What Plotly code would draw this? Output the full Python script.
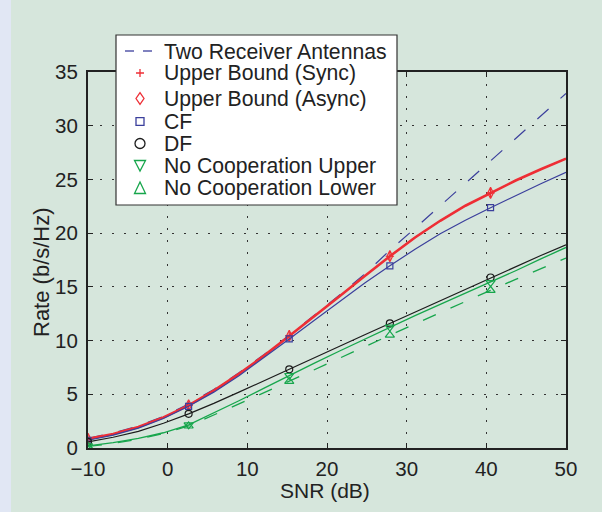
import plotly.graph_objects as go

# SNR grid (dB) and rates (b/s/Hz) for each scheme
snr = [-10, -6.84, -3.68, -0.53, 2.63, 5.79, 8.95, 12.11, 15.26, 18.42,
       21.58, 24.74, 27.89, 31.05, 34.21, 37.37, 40.53, 43.68, 46.84, 50]

two_rx = [0.9, 1.4, 2.05, 2.95, 4.1, 5.45, 7.0, 8.7, 10.5, 12.35,
          14.25, 16.2, 18.4, 20.45, 22.55, 24.6, 26.7, 28.8, 30.9, 33.0]
ub_sync = [0.85, 1.3, 1.95, 2.85, 3.97, 5.35, 6.9, 8.6, 10.43, 12.25,
           14.12, 16.0, 17.85, 19.6, 21.15, 22.55, 23.74, 24.9, 25.95, 26.94]
ub_async = [0.85, 1.3, 1.95, 2.85, 3.97, 5.35, 6.9, 8.6, 10.43, 12.25,
            14.12, 16.0, 17.85, 19.6, 21.15, 22.55, 23.74, 24.9, 25.95, 26.94]
cf = [0.72, 1.2, 1.85, 2.75, 3.88, 5.2, 6.72, 8.4, 10.15, 11.9,
      13.65, 15.35, 16.96, 18.5, 19.95, 21.2, 22.37, 23.5, 24.6, 25.66]
df = [0.57, 1.0, 1.55, 2.3, 3.18, 4.15, 5.2, 6.25, 7.32, 8.4,
      9.47, 10.54, 11.6, 12.67, 13.74, 14.8, 15.87, 16.9, 17.92, 18.92]
nc_upper = [0.2, 0.5, 0.9, 1.42, 2.16, 3.25, 4.4, 5.57, 6.75, 7.9,
            9.03, 10.15, 11.25, 12.32, 13.37, 14.4, 15.4, 16.5, 17.6, 18.67]
nc_lower = [0.15, 0.42, 0.82, 1.35, 2.05, 3.05, 4.1, 5.15, 6.2, 7.28,
            8.35, 9.43, 10.5, 11.56, 12.6, 13.65, 14.68, 15.7, 16.7, 17.68]

x_ticks = [-10, 0, 10, 20, 30, 40, 50]
y_ticks = [0, 5, 10, 15, 20, 25, 30, 35]

labels = ["Two Receiver Antennas", "Upper Bound (Sync)", "Upper Bound (Async)",
          "CF", "DF", "No Cooperation Upper", "No Cooperation Lower"]

RED = "#ee2f36"
BLUE = "#3b3f9c"
BLACK = "#1c1c1c"
GREEN = "#17a64c"
BG = "#d6e6dc"
STRIPE = "#e1e7f4"
FONT = "Liberation Sans, Arial, sans-serif"

W, H = 602, 512


def fx(p):
    return p / W


def fy(p):
    return 1 - p / H


step = 4  # a marker on every fourth sample

fig = go.Figure()

curves = [
    (two_rx, BLUE, 1.2, "15px,16px", None, 0),
    (ub_sync, RED, 2.6, "solid", "cross-thin", 6),
    (ub_async, RED, 1.2, "solid", "diamond-tall-open", 8),
    (cf, BLUE, 1.2, "solid", "square-open", 6),
    (df, BLACK, 1.2, "solid", "circle-open", 7),
    (nc_upper, GREEN, 1.3, "solid", "triangle-down-open", 8),
    (nc_lower, GREEN, 1.3, "14px,16px", "triangle-up-open", 8),
]

for (vals, color, lw, dash, sym, msize), name in zip(curves, labels):
    fig.add_trace(go.Scatter(
        x=snr, y=vals, mode="lines", name=name, showlegend=False,
        line=dict(color=color, width=lw, dash=dash), hoverinfo="skip"))
    if sym:
        fig.add_trace(go.Scatter(
            x=snr[::step], y=vals[::step], mode="markers", name=name,
            showlegend=False,
            marker=dict(symbol=sym, size=msize, color=color,
                        line=dict(color=color, width=1.2))))

shapes = [
    # pale strip along the left edge
    dict(type="rect", xref="paper", yref="paper", x0=0, x1=fx(11), y0=0, y1=1,
         fillcolor=STRIPE, line=dict(width=0), layer="below"),
    # legend box
    dict(type="rect", xref="paper", yref="paper",
         x0=fx(116), x1=fx(397), y0=fy(205), y1=fy(35),
         fillcolor="white", line=dict(color="#333", width=1.2), layer="above"),
]

# legend keys
cx = 140
rows = [51, 73, 98.5, 121.5, 143.5, 165.5, 188]
key = dict(xref="paper", yref="paper", layer="above")
shapes += [
    dict(type="line", x0=fx(125), x1=fx(134), y0=fy(rows[0]), y1=fy(rows[0]),
         line=dict(color=BLUE, width=1.3), **key),
    dict(type="line", x0=fx(143), x1=fx(152), y0=fy(rows[0]), y1=fy(rows[0]),
         line=dict(color=BLUE, width=1.3), **key),
    dict(type="path", path=f"M{fx(cx-4)},{fy(rows[1])} L{fx(cx+4)},{fy(rows[1])} "
         f"M{fx(cx)},{fy(rows[1]-4)} L{fx(cx)},{fy(rows[1]+4)}",
         line=dict(color=RED, width=1.3), **key),
    dict(type="path", path=f"M{fx(cx)},{fy(rows[2]-5.8)} L{fx(cx+4)},{fy(rows[2])} "
         f"L{fx(cx)},{fy(rows[2]+5.8)} L{fx(cx-4)},{fy(rows[2])} Z",
         line=dict(color=RED, width=1.3), **key),
    dict(type="rect", x0=fx(cx-4), x1=fx(cx+4), y0=fy(rows[3]+3.8), y1=fy(rows[3]-3.8),
         line=dict(color=BLUE, width=1.3), **key),
    dict(type="circle", x0=fx(cx-5), x1=fx(cx+5), y0=fy(rows[4]+5), y1=fy(rows[4]-5),
         line=dict(color=BLACK, width=1.3), **key),
    dict(type="path", path=f"M{fx(cx-5.5)},{fy(rows[5]-5)} L{fx(cx+5.5)},{fy(rows[5]-5)} "
         f"L{fx(cx)},{fy(rows[5]+5.5)} Z",
         line=dict(color=GREEN, width=1.3), **key),
    dict(type="path", path=f"M{fx(cx-5.5)},{fy(rows[6]+5.5)} L{fx(cx+5.5)},{fy(rows[6]+5.5)} "
         f"L{fx(cx)},{fy(rows[6]-6)} Z",
         line=dict(color=GREEN, width=1.3), **key),
]

annotations = [
    dict(text=t, xref="paper", yref="paper", x=fx(162), y=fy(r),
         xanchor="left", yanchor="middle", showarrow=False,
         font=dict(family=FONT, size=21.2, color="#222"))
    for t, r in zip(labels, rows)
]
annotations += [
    dict(text="SNR (dB)", xref="paper", yref="paper", x=fx(325), y=fy(490),
         xanchor="center", yanchor="middle", showarrow=False,
         font=dict(family=FONT, size=21, color="#222")),
    dict(text="Rate (b/s/Hz)", xref="paper", yref="paper", x=fx(41), y=fy(272),
         xanchor="center", yanchor="middle", showarrow=False, textangle=-90,
         font=dict(family=FONT, size=22, color="#222")),
]

axis_common = dict(
    showline=True, linecolor="#222", linewidth=2, mirror="ticks",
    ticks="inside", ticklen=5, tickwidth=1, tickcolor="#222",
    showgrid=True, gridcolor="#333", gridwidth=1.2, griddash="2px,10px",
    zeroline=False, automargin=False,
    tickfont=dict(family=FONT, size=20.5, color="#222"),
)

fig.update_layout(
    width=W, height=H,
    margin=dict(l=0, r=0, t=0, b=0, pad=0, autoexpand=False),
    paper_bgcolor=BG, plot_bgcolor=BG, showlegend=False,
    xaxis=dict(domain=[fx(88), fx(566)], range=[-10, 50], tickvals=x_ticks,
               ticklabelstandoff=1, **axis_common),
    yaxis=dict(domain=[fy(448), fy(72)], range=[0, 35], tickvals=y_ticks,
               ticklabelstandoff=4, **axis_common),
    shapes=shapes, annotations=annotations,
)

fig.write_html("out.html")
